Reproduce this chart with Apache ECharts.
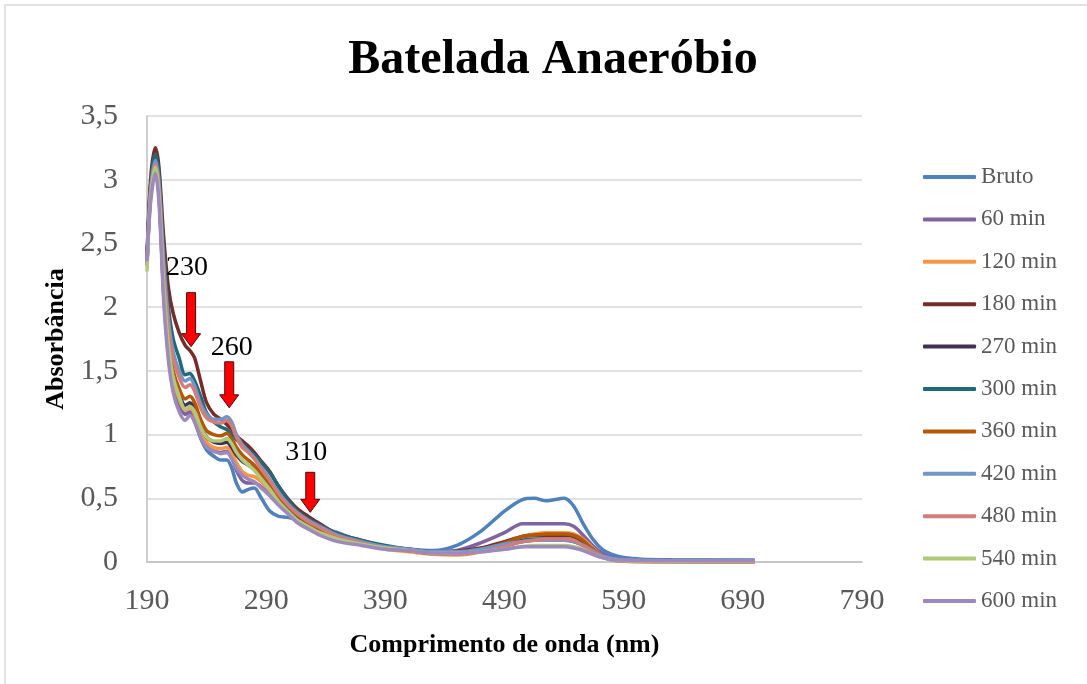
<!DOCTYPE html>
<html>
<head>
<meta charset="utf-8">
<script src="https://cdn.jsdelivr.net/npm/echarts@6/dist/echarts.min.js"></script>
<style>
html,body{margin:0;padding:0;background:#fff;}
#chart{width:1087px;height:684px;}
</style>
</head>
<body>
<div id="chart"></div>
<script>
// ---- data ----
const wavelengths = [190,193,197,200,204,208,212,217,222,226,230,235,240,246,252,257,261,265,270,275,280,286,293,300,308,316,325,335,350,370,390,410,430,450,470,490,505,515,525,540,548,556,564,572,580,590,605,630,700];

const bruto  = [2.40,2.95,3.15,2.90,2.10,1.62,1.38,1.24,1.16,1.17, 1.10,0.97,0.88,0.83,0.80,0.80,0.74,0.62,0.55,0.57, 0.58,0.50,0.40,0.36,0.35,0.33,0.31,0.27,0.23,0.16, 0.12,0.10,0.09,0.13,0.24,0.40,0.49,0.50,0.48,0.50, 0.44,0.30,0.18,0.10,0.06,0.035,0.022,0.018,0.015];
const min60  = [2.35,2.88,3.10,2.88,2.12,1.65,1.40,1.25,1.16,1.18, 1.13,1.00,0.91,0.87,0.86,0.87,0.82,0.72,0.64,0.62, 0.62,0.59,0.53,0.46,0.40,0.34,0.29,0.24,0.18,0.14, 0.11,0.09,0.08,0.09,0.15,0.23,0.30,0.30,0.30,0.30, 0.28,0.21,0.13,0.07,0.035,0.02,0.012,0.01,0.008];
const min120 = [2.33,2.88,3.12,2.90,2.15,1.68,1.43,1.28,1.19,1.21, 1.16,1.03,0.94,0.90,0.89,0.90,0.86,0.78,0.71,0.68, 0.67,0.63,0.56,0.48,0.41,0.35,0.30,0.25,0.19,0.14, 0.10,0.08,0.06,0.055,0.08,0.14,0.20,0.22,0.23,0.23, 0.22,0.18,0.11,0.05,0.02,0.008,0.003,0.0,0.0];
const min180 = [2.38,3.00,3.25,3.10,2.55,2.15,1.95,1.80,1.70,1.66, 1.60,1.42,1.25,1.16,1.12,1.08,1.04,0.99,0.95,0.91, 0.86,0.79,0.71,0.60,0.50,0.42,0.36,0.30,0.22,0.17, 0.12,0.10,0.08,0.085,0.11,0.16,0.20,0.21,0.21,0.21, 0.20,0.16,0.10,0.05,0.025,0.012,0.008,0.005,0.004];
const min270 = [2.34,2.90,3.12,2.92,2.20,1.72,1.46,1.32,1.23,1.25, 1.20,1.07,0.98,0.94,0.93,0.94,0.90,0.84,0.79,0.76, 0.73,0.67,0.59,0.50,0.42,0.35,0.30,0.25,0.19,0.14, 0.11,0.09,0.07,0.07,0.09,0.13,0.16,0.17,0.17,0.17, 0.16,0.13,0.08,0.04,0.02,0.012,0.008,0.006,0.005];
const min300 = [2.35,2.95,3.20,3.05,2.45,2.00,1.75,1.60,1.47,1.48, 1.42,1.30,1.17,1.10,1.06,1.04,1.00,0.96,0.92,0.88, 0.84,0.78,0.70,0.60,0.49,0.40,0.34,0.29,0.22,0.17, 0.13,0.10,0.08,0.08,0.10,0.14,0.17,0.18,0.18,0.18, 0.17,0.14,0.09,0.05,0.03,0.02,0.015,0.012,0.01];
const min360 = [2.33,2.88,3.10,2.90,2.20,1.75,1.50,1.36,1.28,1.30, 1.25,1.12,1.03,1.00,0.99,1.01,0.97,0.90,0.84,0.80, 0.76,0.69,0.61,0.52,0.44,0.37,0.31,0.26,0.20,0.15, 0.11,0.09,0.07,0.07,0.10,0.15,0.20,0.21,0.22,0.22, 0.21,0.17,0.10,0.05,0.025,0.012,0.006,0.004,0.003];
const min420 = [2.32,2.90,3.15,2.98,2.35,1.90,1.65,1.50,1.42,1.44, 1.38,1.24,1.16,1.12,1.12,1.14,1.10,1.00,0.92,0.87, 0.82,0.74,0.65,0.55,0.46,0.39,0.33,0.28,0.21,0.16, 0.12,0.10,0.08,0.08,0.10,0.14,0.16,0.17,0.17,0.17, 0.16,0.13,0.09,0.05,0.03,0.02,0.015,0.012,0.01];
const min480 = [2.33,2.90,3.12,2.95,2.30,1.85,1.60,1.45,1.37,1.39, 1.34,1.21,1.13,1.10,1.09,1.11,1.07,0.98,0.90,0.86, 0.81,0.73,0.64,0.54,0.45,0.38,0.32,0.27,0.20,0.15, 0.11,0.09,0.065,0.06,0.08,0.12,0.16,0.17,0.18,0.18, 0.17,0.13,0.08,0.04,0.015,0.005,0.0,0.0,0.0];
const min540 = [2.28,2.85,3.10,2.90,2.18,1.70,1.45,1.30,1.20,1.22, 1.18,1.06,0.98,0.95,0.95,0.97,0.93,0.86,0.80,0.76, 0.72,0.65,0.57,0.48,0.40,0.33,0.28,0.23,0.18,0.14, 0.11,0.09,0.07,0.07,0.08,0.10,0.12,0.13,0.13,0.13, 0.12,0.10,0.06,0.035,0.02,0.012,0.008,0.006,0.005];
const min600 = [2.36,2.82,3.05,2.83,2.05,1.58,1.33,1.18,1.11,1.15, 1.10,0.98,0.90,0.87,0.85,0.86,0.81,0.74,0.68,0.65, 0.63,0.58,0.52,0.45,0.38,0.31,0.26,0.21,0.16,0.13, 0.10,0.09,0.07,0.07,0.08,0.10,0.12,0.12,0.12,0.12, 0.11,0.09,0.06,0.035,0.02,0.015,0.012,0.01,0.01];

const seriesNames = ['Bruto','60 min','120 min','180 min','270 min','300 min','360 min','420 min','480 min','540 min','600 min'];
const seriesValues = [bruto,min60,min120,min180,min270,min300,min360,min420,min480,min540,min600];
const seriesColors = ['#4F81BD','#8064A2','#F79646','#772C2A','#403152','#226978','#B65708','#7195C9','#D07E7C','#AFC97A','#9E89BE'];

const xTicks = [190,290,390,490,590,690,790];
const yTicks = [0,0.5,1,1.5,2,2.5,3,3.5];

// annotations (arrow tip in data coordinates)
const annoLabels = ['230','260','310'];
const annoNm     = [227,259,327];
const annoAbs    = [1.69,1.21,0.39];

const FONT = "'Liberation Serif','Times New Roman',serif";

const chart = echarts.init(document.getElementById('chart'));

const series = seriesNames.map((name,k)=>({
  name: name,
  type: 'line',
  data: wavelengths.map((w,i)=>[w, seriesValues[k][i]]),
  smooth: 0.3,
  symbol: 'none',
  showSymbol: false,
  lineStyle: {width: 3.5, color: seriesColors[k]},
  itemStyle: {color: seriesColors[k]},
  emphasis: {disabled: true},
  animation: false
}));

chart.setOption({
  animation: false,
  title: {
    text: 'Batelada Anaeróbio',
    left: 548, top: 32, textAlign: 'center',
    textStyle: {fontFamily: FONT, fontSize: 48, fontWeight: 'bold', color: '#000'}
  },
  grid: {left: 147, top: 116, right: 225, bottom: 122, containLabel: false, outerBoundsMode: 'none'},
  legend: {
    orient: 'vertical', left: 918, top: 160,
    icon: 'roundRect',
    itemWidth: 53, itemHeight: 4, itemGap: 18.4,
    textStyle: {fontFamily: FONT, fontSize: 23, color: '#595959', lineHeight: 24},
    data: seriesNames
  },
  xAxis: {
    type: 'value', min: xTicks[0], max: xTicks[xTicks.length-1], interval: xTicks[1]-xTicks[0],
    name: 'Comprimento de onda (nm)', nameLocation: 'middle', nameGap: 70,
    nameTextStyle: {fontFamily: FONT, fontSize: 26, fontWeight: 'bold', color: '#000'},
    axisLine: {show: true, lineStyle: {color: '#bfbfbf', width: 1.5}},
    axisTick: {show: false},
    splitLine: {show: false},
    axisLabel: {fontFamily: FONT, fontSize: 30, color: '#595959', margin: 24}
  },
  yAxis: {
    type: 'value', min: yTicks[0], max: yTicks[yTicks.length-1], interval: yTicks[1]-yTicks[0],
    name: 'Absorbância', nameLocation: 'middle', nameGap: 71, nameRotate: 90,
    nameTextStyle: {fontFamily: FONT, fontSize: 26, fontWeight: 'bold', color: '#000'},
    axisLine: {show: true, lineStyle: {color: '#bfbfbf', width: 1.5}},
    axisTick: {show: false},
    splitLine: {show: true, lineStyle: {color: '#d9d9d9', width: 1.5}},
    axisLabel: {fontFamily: FONT, fontSize: 30, color: '#595959', margin: 29,
      formatter: v => String(v).replace('.', ',')}
  },
  series: series
});

// Arrow annotations, positioned through the chart's own coordinate system
const arrowLen = [54, 46, 40];
const textDx = [-4, 2.5, -4];
const textDy = [-79, -60, -60];
const graphics = [{
  type: 'rect', shape: {x: 5, y: 5, width: 1100, height: 700},
  style: {fill: 'none', stroke: '#d9d9d9', lineWidth: 1.5}, silent: true, z: 0
}];
annoLabels.forEach((lab,i)=>{
  const p = chart.convertToPixel({gridIndex: 0}, [annoNm[i], annoAbs[i]]);
  const L = arrowLen[i];
  graphics.push({
    type: 'polygon', x: p[0], y: p[1],
    shape: {points: [[-4.5,-L],[4.5,-L],[4.5,-13],[9.5,-13],[0,0],[-9.5,-13],[-4.5,-13]]},
    style: {fill: '#ff0000', stroke: '#4a0a0a', lineWidth: 1}, z: 100
  });
  graphics.push({
    type: 'text', x: p[0] + textDx[i], y: p[1] + textDy[i],
    style: {text: lab, fontFamily: FONT, fontSize: 28, fill: '#000', align: 'center', verticalAlign: 'middle'},
    z: 100
  });
});
chart.setOption({graphic: graphics});
</script>
</body>
</html>
